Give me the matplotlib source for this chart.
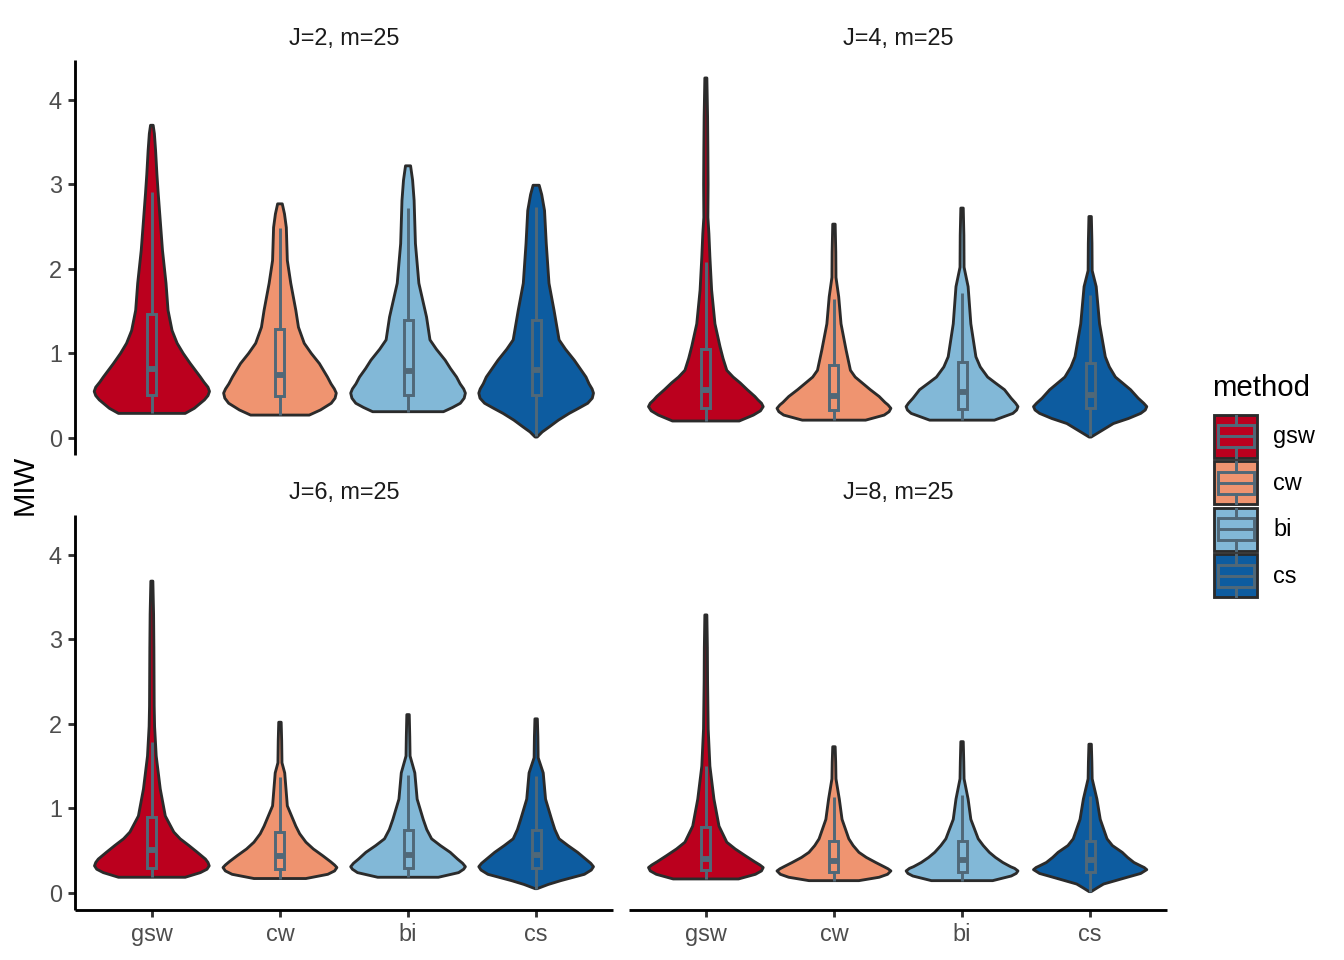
import numpy as np
import matplotlib.pyplot as plt
from matplotlib.patches import Rectangle

plt.rcParams['font.family'] = ['Liberation Sans', 'DejaVu Sans']

methods = ["gsw", "cw", "bi", "cs"]
colors = ["#BB001E", "#EF9470", "#82B8D7", "#0D5CA0"]
facets = ["J=2, m=25", "J=4, m=25", "J=6, m=25", "J=8, m=25"]

# violin outlines: (MIW, relative half width), bottom to top
j2_gsw = [(0.29, 33), (0.35, 42), (0.45, 52), (0.50, 55.5), (0.55, 57), (0.60, 55.5), (0.66, 51.5),
          (0.72, 48), (0.80, 43), (0.88, 38), (1.00, 31), (1.12, 25), (1.27, 20), (1.51, 16),
          (1.83, 14), (2.22, 10.5), (2.89, 6.3), (3.12, 5), (3.40, 3.7), (3.60, 2.5), (3.70, 1.3)]
j2_cw = [(0.27, 29), (0.33, 40), (0.41, 50.7), (0.47, 54.5), (0.53, 55.7), (0.58, 53.8), (0.64, 50.5),
         (0.72, 47), (0.80, 43), (0.88, 39), (1.00, 31), (1.12, 24), (1.31, 18.3), (1.51, 15.7),
         (1.83, 10.7), (2.10, 7.3), (2.49, 6.3), (2.65, 4.5), (2.77, 2.3)]
j2_bi = [(0.31, 35), (0.36, 44), (0.41, 51.7), (0.47, 55.5), (0.53, 56.7), (0.58, 55), (0.64, 51.5),
         (0.72, 48), (0.82, 42), (0.92, 36.7), (1.05, 28), (1.16, 21.7), (1.43, 18.3), (1.83, 10.7),
         (2.30, 7.3), (2.81, 6), (3.05, 4.5), (3.22, 2.5)]
j2_cs = [(0.01, 1), (0.07, 6), (0.13, 13), (0.21, 22), (0.29, 32.7), (0.35, 42), (0.41, 51),
         (0.47, 55.5), (0.53, 56.7), (0.58, 55.3), (0.64, 52.3), (0.72, 49.3), (0.82, 43.5),
         (0.92, 37.7), (1.05, 29), (1.16, 22.7), (1.51, 17.7), (1.83, 12.7), (2.30, 10),
         (2.69, 8.3), (2.88, 5.5), (2.99, 3)]

j4_gsw = [(0.20, 33), (0.27, 47), (0.32, 54), (0.37, 56.7), (0.41, 55), (0.45, 51.5), (0.49, 48.5),
          (0.57, 41), (0.65, 34), (0.72, 27), (0.80, 20.7), (0.94, 17), (1.08, 14), (1.35, 9),
          (1.75, 5.7), (2.14, 4), (2.42, 3), (2.61, 2), (3.0, 2.2), (3.4, 2.0), (3.8, 1.7), (4.26, 1)]
j4_cw = [(0.21, 31.3), (0.27, 49.7), (0.31, 54.5), (0.35, 56.3), (0.39, 53.5), (0.42, 50.5),
         (0.49, 44.7), (0.57, 36), (0.65, 28), (0.72, 21), (0.80, 16.3), (1.04, 12), (1.35, 7),
         (1.67, 4.7), (1.90, 2), (2.2, 1.8), (2.53, 1.2)]
j4_bi = [(0.21, 32), (0.29, 50.3), (0.33, 54), (0.37, 55.3), (0.41, 53), (0.47, 48.5), (0.57, 42),
         (0.65, 33), (0.72, 25.3), (0.84, 18), (0.96, 13.7), (1.35, 8.7), (1.79, 6), (2.02, 2),
         (2.4, 1.8), (2.72, 1.2)]
j4_cs = [(0.01, 1), (0.09, 12), (0.17, 23), (0.23, 38), (0.29, 50), (0.33, 54.5), (0.37, 56),
         (0.41, 53), (0.47, 47.5), (0.57, 40), (0.65, 32), (0.72, 25), (0.84, 19), (0.96, 15),
         (1.35, 9.3), (1.79, 6), (1.98, 2), (2.3, 1.8), (2.62, 1.2)]

j6_gsw = [(0.185, 33), (0.24, 48), (0.28, 54.5), (0.32, 56.7), (0.36, 55.5), (0.40, 53), (0.48, 45),
          (0.56, 36.7), (0.64, 28), (0.72, 21.7), (0.91, 13.3), (1.23, 8.3), (1.62, 4.3), (1.97, 2.7),
          (2.21, 2.3), (2.9, 2), (3.3, 1.7), (3.69, 1)]
j6_cw = [(0.17, 25.7), (0.22, 47.3), (0.26, 54), (0.30, 56.3), (0.33, 54), (0.37, 50), (0.44, 42.3),
         (0.52, 33), (0.60, 25.7), (0.70, 19.5), (0.79, 15.7), (1.03, 7.3), (1.42, 4.7), (1.54, 2),
         (1.8, 1.7), (2.02, 1.2)]
j6_bi = [(0.185, 30), (0.24, 50), (0.28, 55), (0.31, 56.7), (0.35, 54), (0.40, 49), (0.48, 41.7),
         (0.56, 32), (0.64, 23.3), (0.75, 18.5), (0.87, 15), (1.11, 9), (1.42, 6.7), (1.62, 2),
         (1.85, 1.7), (2.11, 1.2)]
j6_cs = [(0.05, 1), (0.10, 12), (0.145, 24.3), (0.22, 47.7), (0.27, 54.5), (0.31, 56.7), (0.35, 54),
         (0.40, 49), (0.48, 41), (0.56, 31.5), (0.64, 22.7), (0.75, 18.5), (0.87, 15.3), (1.11, 9.3),
         (1.42, 7), (1.60, 2), (1.85, 1.7), (2.06, 1.2)]

j8_gsw = [(0.165, 32.3), (0.22, 49), (0.26, 55), (0.30, 56.7), (0.33, 53.5), (0.37, 48), (0.44, 39),
          (0.52, 29), (0.60, 20.7), (0.79, 13), (1.11, 8), (1.50, 4), (1.94, 2.3), (2.5, 1.7),
          (2.9, 1.5), (3.29, 1)]
j8_cw = [(0.145, 24.7), (0.185, 44.7), (0.22, 53), (0.26, 56.3), (0.285, 53.5), (0.31, 49.5),
         (0.36, 41.3), (0.42, 32), (0.48, 24.7), (0.56, 19), (0.64, 14.7), (0.87, 8), (1.11, 5.3),
         (1.35, 2), (1.55, 1.7), (1.73, 1.2)]
j8_bi = [(0.145, 30.3), (0.20, 48.7), (0.23, 53.5), (0.26, 55.3), (0.29, 52), (0.31, 48),
         (0.36, 40.3), (0.42, 33), (0.48, 27), (0.56, 21), (0.64, 16), (0.87, 8.7), (1.11, 6),
         (1.35, 2), (1.55, 1.7), (1.79, 1.2)]
j8_cs = [(0.015, 1), (0.06, 7), (0.105, 13.3), (0.185, 36.7), (0.23, 50), (0.275, 56), (0.30, 53.5),
         (0.32, 50), (0.36, 43.3), (0.42, 37), (0.48, 31.7), (0.56, 22), (0.64, 16.7), (0.87, 10),
         (1.11, 6.7), (1.35, 2), (1.55, 1.7), (1.76, 1.2)]

# box stats per method: (whisker low, q1, median, q3, whisker high)
box_j2 = [(0.29, 0.51, 0.81, 1.47, 2.91), (0.27, 0.49, 0.75, 1.29, 2.49),
          (0.31, 0.51, 0.79, 1.39, 2.72), (0.02, 0.51, 0.80, 1.40, 2.73)]
box_j4 = [(0.20, 0.35, 0.57, 1.05, 2.08), (0.21, 0.33, 0.49, 0.86, 1.64),
          (0.21, 0.34, 0.54, 0.90, 1.71), (0.02, 0.35, 0.51, 0.89, 1.69)]
box_j6 = [(0.185, 0.30, 0.51, 0.90, 1.79), (0.17, 0.28, 0.44, 0.72, 1.37),
          (0.185, 0.29, 0.45, 0.74, 1.40), (0.05, 0.29, 0.45, 0.74, 1.38)]
box_j8 = [(0.165, 0.27, 0.40, 0.78, 1.50), (0.145, 0.25, 0.38, 0.61, 1.14),
          (0.145, 0.25, 0.39, 0.62, 1.16), (0.015, 0.25, 0.39, 0.62, 1.15)]

violins = [[j2_gsw, j2_cw, j2_bi, j2_cs], [j4_gsw, j4_cw, j4_bi, j4_cs],
           [j6_gsw, j6_cw, j6_bi, j6_cs], [j8_gsw, j8_cw, j8_bi, j8_cs]]
boxes = [box_j2, box_j4, box_j6, box_j8]

edge = "#2B2B2B"
boxc = "#506878"
lw = 1.07
blw = 1.1

W, H = 1344, 960
fig = plt.figure(figsize=(7, 5), dpi=192)

# shared y range with 5% padding like ggplot
all_y = [p[0] for f in violins for v in f for p in v]
ylo, yhi = min(all_y), max(all_y)
pad = 0.05 * (yhi - ylo)
wmax = max(p[1] for f in violins for v in f for p in v)

panels = [(75, 60), (629, 60), (75, 515), (629, 515)]
pw, ph = 538, 395

for i, (left, top) in enumerate(panels):
    ax = fig.add_axes([left / W, 1 - (top + ph) / H, pw / W, ph / H])
    ax.set_xlim(0.4, 4.6)
    ax.set_ylim(ylo - pad, yhi + pad)
    for j in range(4):
        pos = j + 1
        ys = np.array([p[0] for p in violins[i][j]])
        half = np.array([p[1] for p in violins[i][j]]) / wmax * 0.45
        xs = np.concatenate([pos - half, (pos + half)[::-1]])
        yy = np.concatenate([ys, ys[::-1]])
        ax.fill(xs, yy, facecolor=colors[j], edgecolor=edge, lw=lw, joinstyle="round", zorder=2)
        lo, q1, med, q3, hi = boxes[i][j]
        bw = 0.07
        ax.plot([pos, pos], [lo, q1], color=boxc, lw=blw, zorder=3, solid_capstyle="butt")
        ax.plot([pos, pos], [q3, hi], color=boxc, lw=blw, zorder=3, solid_capstyle="butt")
        ax.add_patch(Rectangle((pos - bw / 2, q1), bw, q3 - q1, facecolor=colors[j],
                               edgecolor=boxc, lw=blw, zorder=3))
        ax.plot([pos - bw / 2, pos + bw / 2], [med, med], color=boxc, lw=2.2, zorder=4,
                solid_capstyle="butt")

    for s in ["top", "right"]:
        ax.spines[s].set_visible(False)
    ax.spines["left"].set_visible(i in (0, 2))
    ax.spines["bottom"].set_visible(i in (2, 3))
    for s in ["left", "bottom"]:
        ax.spines[s].set_linewidth(lw)
        ax.spines[s].set_color("black")
        ax.spines[s].set_capstyle("butt")

    ax.set_yticks([0, 1, 2, 3, 4])
    ax.set_xticks([1, 2, 3, 4])
    ax.tick_params(axis="both", length=2.75, width=lw, color="#333333", labelcolor="#4D4D4D",
                   labelsize=8.8, pad=2.2)
    if i in (0, 2):
        ax.set_yticklabels(["0", "1", "2", "3", "4"])
    else:
        ax.tick_params(axis="y", left=False, labelleft=False)
    if i in (2, 3):
        ax.set_xticklabels(methods)
    else:
        ax.tick_params(axis="x", bottom=False, labelbottom=False)
    ax.patch.set_alpha(0)
    ax.text(0.5, 1 + 22 / ph, facets[i], transform=ax.transAxes, ha="center", va="center",
            fontsize=8.8, color="#1A1A1A")

fig.text(25 / W, 1 - 485 / H, "MIW", rotation=90, ha="center", va="center", fontsize=11)

# legend drawn in pixel space
leg = fig.add_axes([1190 / W, 1 - 610 / H, 154 / W, 250 / H])
leg.set_xlim(1190, 1344)
leg.set_ylim(610, 360)
leg.axis("off")
leg.text(1212, 388, "method", ha="left", va="center", fontsize=11)
key_tops = [414, 460.5, 507, 553.5]
for j, kt in enumerate(key_tops):
    leg.add_patch(Rectangle((1214, kt + 1), 43, 43, facecolor=colors[j], edgecolor=edge, lw=lw))
    leg.plot([1235.5, 1235.5], [kt + 2, kt + 11.5], color=boxc, lw=blw)
    leg.plot([1235.5, 1235.5], [kt + 33.5, kt + 43], color=boxc, lw=blw)
    leg.add_patch(Rectangle((1217.5, kt + 11.5), 36, 22, facecolor=colors[j], edgecolor=boxc, lw=blw))
    leg.plot([1217.5, 1253.5], [kt + 22.5, kt + 22.5], color=boxc, lw=blw)
    leg.text(1273, kt + 23, methods[j], ha="left", va="center", fontsize=8.8, color="#000000")

fig.savefig("out.png", dpi=192)
